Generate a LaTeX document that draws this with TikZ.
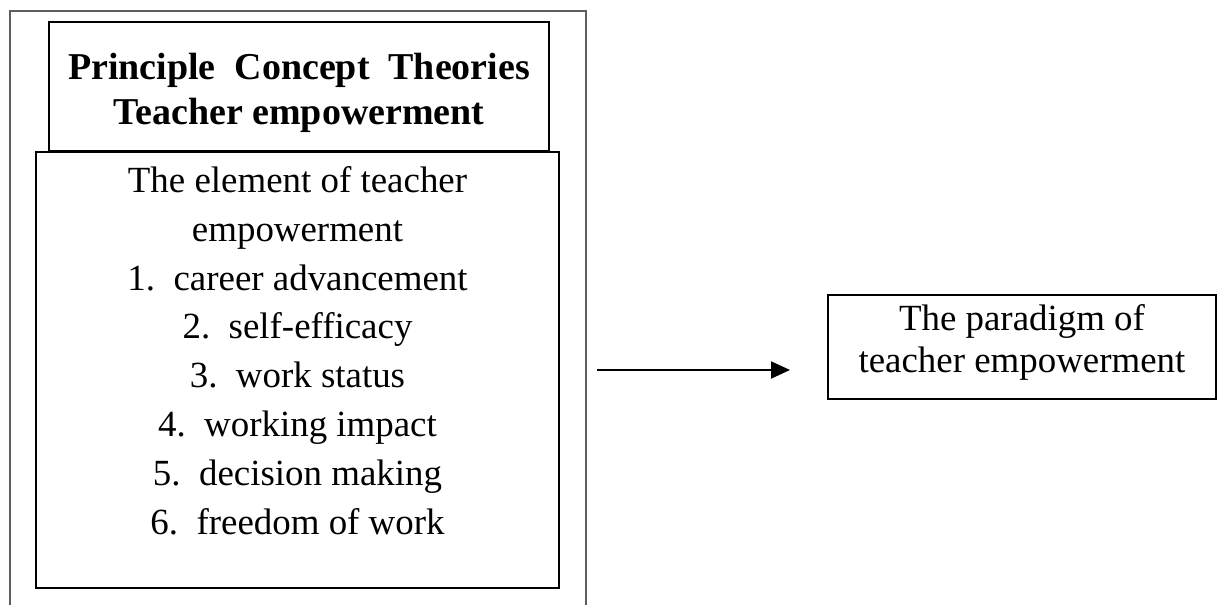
\documentclass[tikz,border=0pt]{standalone}
\usepackage{fontspec}
\setmainfont{Liberation Serif}
\usetikzlibrary{arrows.meta,positioning,calc}
\definecolor{Frame}{HTML}{5E5E5E}
\definecolor{Ink}{HTML}{000000}
\tikzset{
  box/.style={draw=Ink,fill=white,line width=1.1pt,align=center,inner sep=0pt},
  bodytext/.style={align=center,inner sep=0pt,font=\fontsize{21}{27.8}\selectfont},
  headtext/.style={bodytext,font=\fontsize{21.6}{25.5}\selectfont\bfseries},
  frameline/.style={draw=Frame,line width=1.1pt},
  flow/.style={-{Triangle[length=.38cm,width=.34cm]},draw=Ink,line width=1.1pt}
}
\begin{document}
\begin{tikzpicture}
  \useasboundingbox (0,0) rectangle (24.52,12.1);
  % open frame round the theory part
  \draw[frameline] (.2,0) -- (.2,11.88) -- (11.72,11.88) -- (11.72,0);
  \node[box,minimum width=10cm,minimum height=2.58cm] (head) at (5.98,10.37) {};
  \node[headtext] (headlabel) at ([yshift=-.12cm]head.center) {Principle\hspace{.5em}Concept\hspace{.5em}Theories\\Teacher empowerment};
  \node[box,minimum width=10.46cm,minimum height=8.72cm,anchor=north] (inner) at (5.95,9.08) {};
  \node[bodytext,below=.3cm of inner.north] (elements) {The element of teacher\\empowerment\\
    1.\ \ career advancement\\2.\ \ self-efficacy\\3.\ \ work status\\
    4.\ \ working impact\\5.\ \ decision making\\6.\ \ freedom of work};
  \node[box,minimum width=7.76cm,minimum height=2.08cm,anchor=north west] (paradigm) at (16.54,6.22) {};
  \node[bodytext,font=\fontsize{21}{24}\selectfont,below=.2cm of paradigm.north] (paradigmlabel) {The paradigm of\\teacher empowerment};
  \coordinate (arrowstart) at (11.94,4.7);
  \coordinate (arrowend) at (15.8,4.7);
  \draw[flow] (arrowstart) -- (arrowend);
\end{tikzpicture}
\end{document}
